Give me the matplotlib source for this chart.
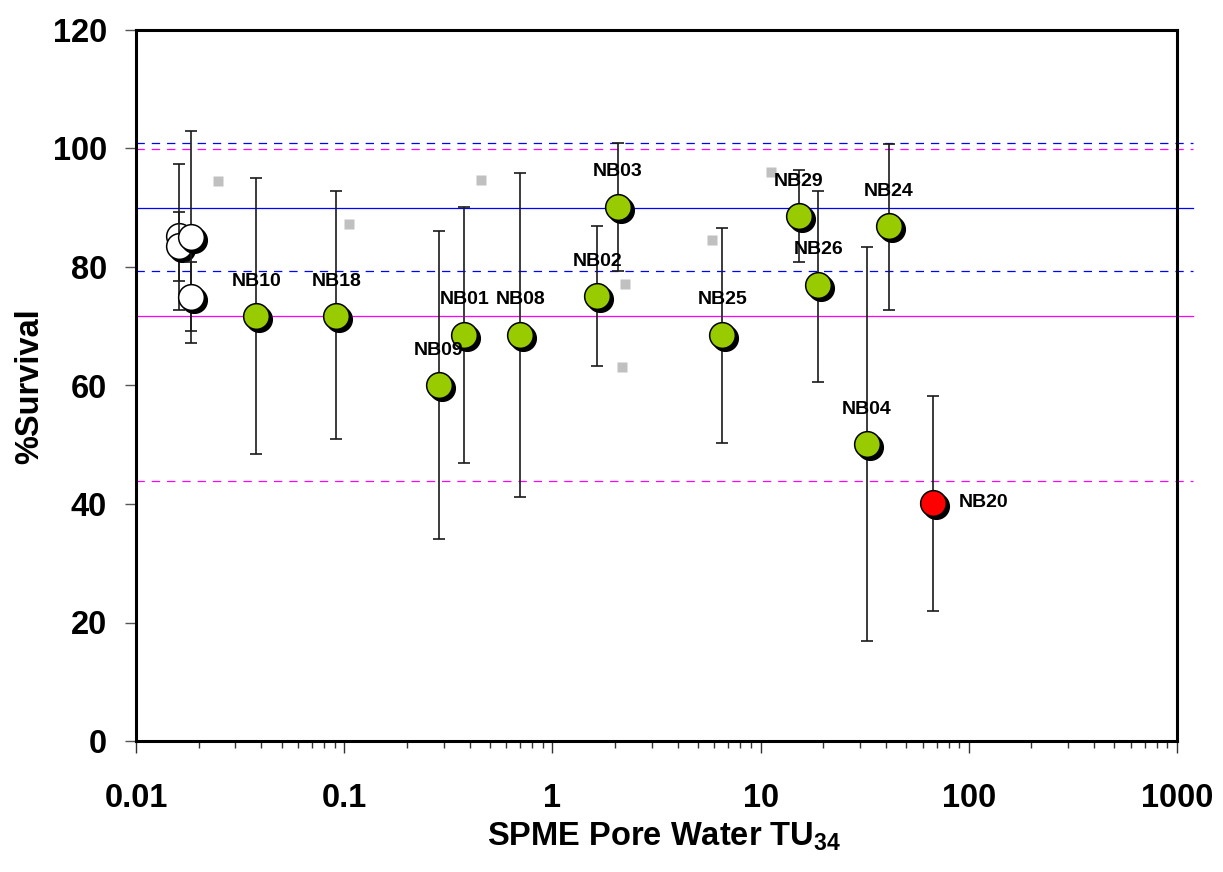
import matplotlib
matplotlib.use("Agg")
import matplotlib.pyplot as plt
from matplotlib.ticker import LogLocator, NullFormatter, FixedLocator
from matplotlib.transforms import offset_copy

plt.rcParams['font.family'] = ['Liberation Sans', 'DejaVu Sans']
plt.rcParams['font.weight'] = 'bold'
plt.rcParams['mathtext.fontset'] = 'custom'
plt.rcParams['mathtext.rm'] = 'Liberation Sans:bold'
plt.rcParams['mathtext.it'] = 'Liberation Sans:bold'
plt.rcParams['mathtext.bf'] = 'Liberation Sans:bold'
plt.rcParams['mathtext.default'] = 'rm'
plt.rcParams['lines.scale_dashes'] = False

# ---------------- data ----------------
# reference (control) points: open circles
ref_x = [0.0161, 0.0161, 0.0184, 0.0184]
ref_y = [85.2, 83.6, 85.0, 75.0]
ref_lo = [72.7, 77.6, 67.2, 69.2]
ref_hi = [97.4, 89.3, 103.0, 80.9]

# site points
site_names = ["NB10", "NB18", "NB09", "NB01", "NB08", "NB02", "NB03",
              "NB25", "NB29", "NB26", "NB24", "NB04", "NB20"]
site_x = [0.0378, 0.0916, 0.284, 0.378, 0.702, 1.64, 2.06,
          6.54, 15.3, 18.9, 41.4, 32.3, 67.1]
site_y = [71.7, 71.7, 60.1, 68.6, 68.6, 75.1, 90.2,
          68.6, 88.6, 77.0, 86.9, 50.1, 40.2]
site_lo = [48.4, 50.9, 34.1, 46.9, 41.2, 63.3, 79.3,
           50.3, 80.9, 60.6, 72.7, 16.9, 22.0]
site_hi = [95.0, 92.8, 86.1, 90.2, 95.8, 86.9, 101.0,
           86.6, 96.3, 92.8, 100.7, 83.3, 58.2]
site_toxic = [False] * 12 + [True]

# grey squares
sq_x = [0.0249, 0.105, 0.456, 2.24, 2.16, 5.86, 11.25]
sq_y = [94.5, 87.3, 94.6, 77.2, 63.2, 84.6, 96.0]

# horizontal reference levels
blue_solid = [90.0]
blue_dashed = [100.9, 79.3]
mag_solid = [71.7]
mag_dashed = [99.9, 43.9]

x_ticks = [0.01, 0.1, 1, 10, 100, 1000]
x_ticklabels = ["0.01", "0.1", "1", "10", "100", "1000"]
y_ticks = [0, 20, 40, 60, 80, 100, 120]

# ---------------- figure ----------------
fig = plt.figure(figsize=(12.23, 8.72), dpi=100)
ax = fig.add_axes([136/1223, 1-741/872, (1177-136)/1223, (741-30)/872])
ax.set_xscale('log')
ax.set_xlim(0.01, 1000)
ax.set_ylim(0, 120)

for v in blue_solid:
    ax.axhline(v, xmin=0, xmax=1.015, color='#0000ff', lw=0.9, clip_on=False, zorder=1)
for v in blue_dashed:
    ax.axhline(v, xmin=0, xmax=1.015, color='#0000ff', lw=0.9, dashes=(6, 5), clip_on=False, zorder=1)
for v in mag_solid:
    ax.axhline(v, xmin=0, xmax=1.015, color='#ff00ff', lw=0.9, clip_on=False, zorder=1)
for v in mag_dashed:
    ax.axhline(v, xmin=0, xmax=1.015, color='#ff00ff', lw=0.9, dashes=(6, 5), clip_on=False, zorder=1)

ax.plot(sq_x, sq_y, ls='none', marker='s', ms=6.5, mfc='#c0c0c0', mec='none', zorder=2)

shadow = offset_copy(ax.transData, fig=fig, x=3, y=-3, units='dots')
ms = 18.5
ecol = '#1a1a1a'

def draw_point(x, y, lo, hi, face, z):
    ax.errorbar([x], [y], yerr=[[y - lo], [hi - y]], fmt='none', ecolor=ecol,
                elinewidth=1.2, capsize=4.5, capthick=1.2, zorder=z)
    ax.plot([x], [y], 'o', ms=ms, mfc='black', mec='black', mew=1.0,
            transform=shadow, zorder=z + 0.1)
    ax.plot([x], [y], 'o', ms=ms, mfc=face, mec='black', mew=1.1, zorder=z + 0.2)

z = 3
for x, y, lo, hi in zip(ref_x, ref_y, ref_lo, ref_hi):
    draw_point(x, y, lo, hi, 'white', z)
    z += 1

for name, x, y, lo, hi, tox in zip(site_names, site_x, site_y, site_lo, site_hi, site_toxic):
    draw_point(x, y, lo, hi, '#ff0000' if tox else '#99cc00', z)
    z += 1
    if tox:
        ax.annotate(name, (x, y), xytext=(18.7, -2.9), textcoords='offset points',
                    ha='left', va='baseline', fontsize=14, fontweight='bold', zorder=50)
    else:
        ax.annotate(name, (x, y), xytext=(0, 21.8), textcoords='offset points',
                    ha='center', va='baseline', fontsize=14, fontweight='bold', zorder=50)

# axes styling
for sp in ax.spines.values():
    sp.set_linewidth(2.2)
    sp.set_zorder(60)

ax.xaxis.set_major_locator(FixedLocator(x_ticks))
ax.set_xticklabels(x_ticklabels)
ax.xaxis.set_minor_locator(LogLocator(base=10, subs=range(2, 10)))
ax.xaxis.set_minor_formatter(NullFormatter())
ax.set_yticks(y_ticks)
ax.tick_params(axis='x', which='major', direction='out', length=8.3, width=1.0,
               color='#333333', pad=22, labelsize=23.5)
ax.tick_params(axis='x', which='minor', direction='out', length=5.3, width=1.0,
               color='#333333')
ax.tick_params(axis='y', which='major', direction='out', length=8, width=1.0,
               color='#555555', pad=13, labelsize=23.5)
for lab in ax.get_xticklabels() + ax.get_yticklabels():
    lab.set_fontweight('bold')

fig.text(29.5/1223, 1-386/872, '%Survival', rotation=90, ha='center', va='center',
         fontsize=23.5, fontweight='bold')
fig.text(664/1223, 1-846/872, 'SPME Pore Water TU$_{34}$', ha='center', va='baseline',
         fontsize=23.5, fontweight='bold')

fig.savefig('out.png', dpi=100)
